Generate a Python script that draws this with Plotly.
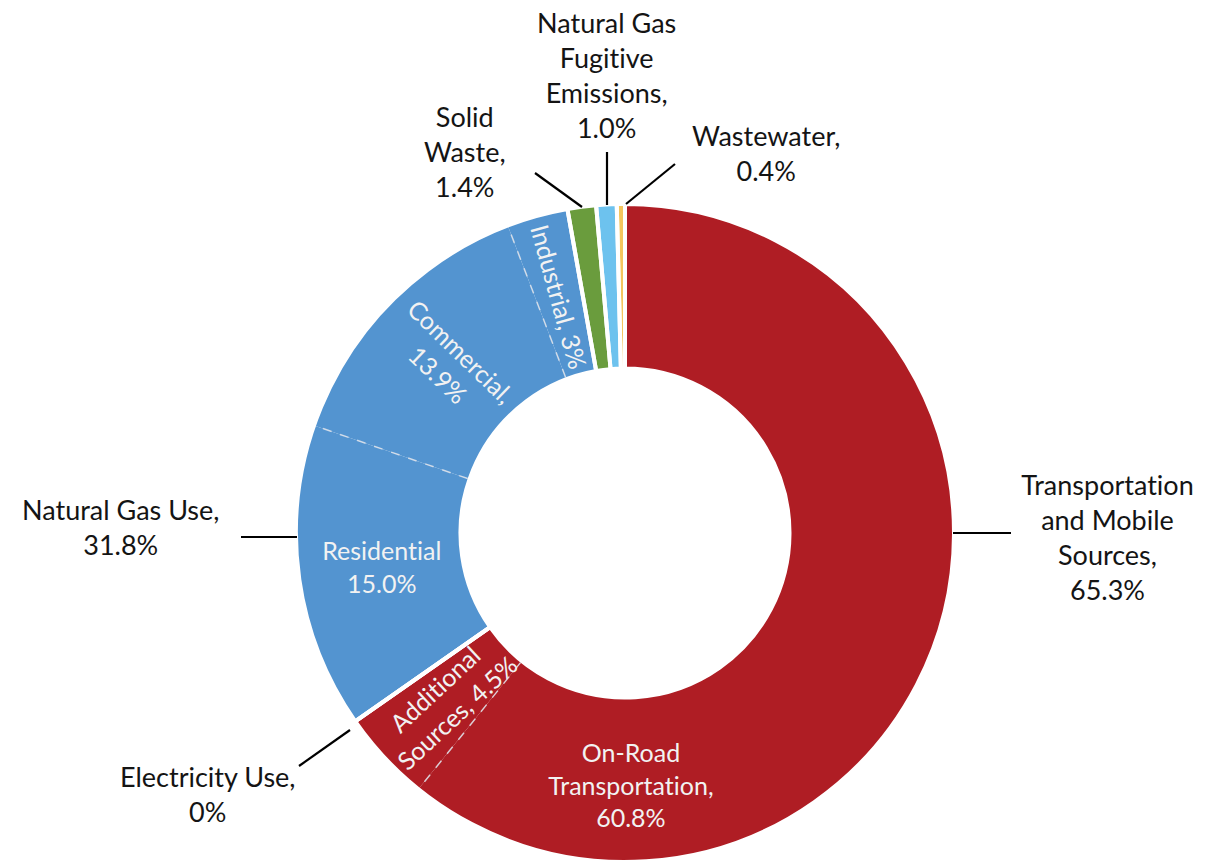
import math
import plotly.graph_objects as go

# ---------------- data ----------------
categories = ["Transportation and Mobile Sources", "Electricity Use", "Natural Gas Use",
              "Solid Waste", "Natural Gas Fugitive Emissions", "Wastewater"]
category_labels = ["Transportation<br>and Mobile<br>Sources,<br>65.3%",
                   "Electricity Use,<br>0%",
                   "Natural Gas Use,<br>31.8%",
                   "Solid<br>Waste,<br>1.4%",
                   "Natural Gas<br>Fugitive<br>Emissions,<br>1.0%",
                   "Wastewater,<br>0.4%"]
category_colors = ["#AF1D24", "#AF1D24", "#5394D0", "#6A9C3D", "#6DC2EE", "#F4C65E"]

sub_names = ["On-Road Transportation", "Additional Sources", "Residential", "Commercial",
             "Industrial", "Solid Waste", "Natural Gas Fugitive Emissions", "Wastewater"]
sub_values = [60.8, 4.5, 15.0, 13.9, 3.0, 1.4, 1.0, 0.4]
sub_parent = [0, 0, 2, 2, 2, 3, 4, 5]
sub_labels = ["On-Road<br>Transportation,<br>60.8%", "Additional<br>Sources, 4.5%",
              "Residential<br>15.0%", "Commercial,<br>13.9%", "Industrial, 3%", "", "", ""]

# ---------------- layout constants ----------------
W, H = 1209, 862
CX, CY = 625, 533
R_OUT = 329
HOLE = 0.5
R_IN = R_OUT * HOLE
R_LABEL = 245
FONT = "Lato"
TEXT_COLOR = "#141414"

inner_orient = {0: "horizontal", 1: "radial", 2: "horizontal", 3: "radial", 4: "radial"}
inner_pos_override = {0: (631, 784)}

outer_pos = {0: (1107, 537), 1: (208, 794), 2: (120, 527), 3: (465, 151), 4: (606, 75), 5: (766, 153)}
leaders = {0: ((953, 533), (1011, 533)), 1: ((299, 766), (350, 730)), 2: ((241, 537), (297, 537)),
           3: ((535, 173), (582, 207)), 4: ((607, 152), (607, 205)), 5: ((675, 164), (626, 204))}


def paper(x, y):
    return x / W, 1 - y / H


def polar(theta_deg, r):
    t = math.radians(theta_deg)
    return CX + r * math.sin(t), CY - r * math.cos(t)


total = sum(sub_values)
cat_values = [sum(v for v, p in zip(sub_values, sub_parent) if p == i) for i in range(len(categories))]

domain = dict(x=[(CX - R_OUT) / W, (CX + R_OUT) / W],
              y=[max(0, 1 - (CY + R_OUT) / H), 1 - (CY - R_OUT) / H])

fig = go.Figure()
fig.add_trace(go.Pie(
    values=sub_values, labels=sub_names, sort=False, direction="clockwise", rotation=0,
    hole=HOLE, domain=domain, textinfo="none", showlegend=False,
    marker=dict(colors=[category_colors[p] for p in sub_parent], line=dict(width=0)),
))
fig.add_trace(go.Pie(
    values=cat_values, labels=categories, sort=False, direction="clockwise", rotation=0,
    hole=HOLE, domain=domain, textinfo="none", showlegend=False, hoverinfo="skip",
    marker=dict(colors=["rgba(0,0,0,0)"] * len(categories), line=dict(color="white", width=4)),
))

shapes = []
annotations = []

# dashed sub-divisions and inner labels
cum = 0.0
for i, v in enumerate(sub_values):
    start = cum / total * 360
    cum += v
    end = cum / total * 360
    mid = (start + end) / 2
    if i + 1 < len(sub_values) and sub_parent[i + 1] == sub_parent[i]:
        x0, y0 = paper(*polar(end, R_IN + 2))
        x1, y1 = paper(*polar(end, R_OUT - 2))
        shapes.append(dict(type="line", xref="paper", yref="paper", x0=x0, y0=y0, x1=x1, y1=y1,
                           line=dict(color="rgba(225,228,235,0.85)", width=1.5, dash="dash")))
    if sub_labels[i]:
        if i in inner_pos_override:
            px, py = inner_pos_override[i]
        else:
            px, py = polar(mid, R_LABEL)
        angle = 0
        if inner_orient.get(i) == "radial":
            angle = mid - 270 if mid > 180 else mid - 90
        ax, ay = paper(px, py)
        annotations.append(dict(x=ax, y=ay, xref="paper", yref="paper", text=sub_labels[i],
                                showarrow=False, textangle=angle, xanchor="center", yanchor="middle",
                                font=dict(family=FONT, size=25, color="#F2F2F2")))

# outer labels with leader lines
for i, lab in enumerate(category_labels):
    px, py = outer_pos[i]
    ax, ay = paper(px, py)
    annotations.append(dict(x=ax, y=ay, xref="paper", yref="paper", text=lab, showarrow=False,
                            xanchor="center", yanchor="middle",
                            font=dict(family=FONT, size=27, color=TEXT_COLOR)))
    (lx0, ly0), (lx1, ly1) = leaders[i]
    x0, y0 = paper(lx0, ly0)
    x1, y1 = paper(lx1, ly1)
    shapes.append(dict(type="line", xref="paper", yref="paper", x0=x0, y0=y0, x1=x1, y1=y1,
                       line=dict(color="black", width=2.2)))

fig.update_layout(
    width=W, height=H, margin=dict(l=0, r=0, t=0, b=0),
    paper_bgcolor="white", plot_bgcolor="white",
    shapes=shapes, annotations=annotations, showlegend=False,
    font=dict(family=FONT),
)

post = ("document.body.style.margin='0';document.body.style.overflow='hidden';"
        "var s=document.createElement('style');"
        "s.innerHTML='text{font-variant-ligatures:none !important;font-feature-settings:\"liga\" 0 !important;}';"
        "document.head.appendChild(s);")
fig.write_html("out.html", config={"displayModeBar": False}, post_script=post)
